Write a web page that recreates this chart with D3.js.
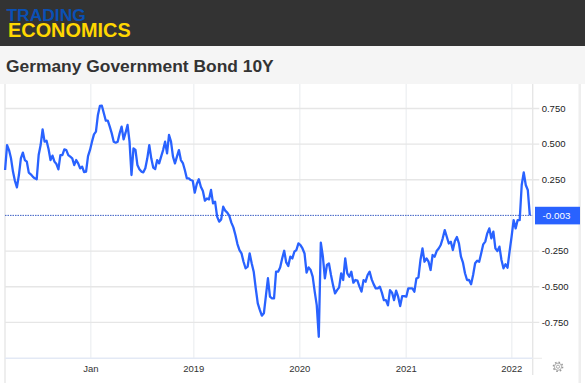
<!DOCTYPE html>
<html>
<head>
<meta charset="utf-8">
<script src="https://d3js.org/d3.v7.min.js"></script>
<style>
  body { margin: 0; background: #fff; }
  text { font-family: "Liberation Sans", Arial, sans-serif; }
</style>
</head>
<body>
<div id="grafico"></div>
<script>
const title = "Germany Government Bond 10Y";
const lastLabel = "-0.003";
const firstWeek = new Date(2017, 2, 5);

const yTicks = [-0.75, -0.5, -0.25, 0.25, 0.5, 0.75];
const xTicks = [new Date(2018, 0, 1), new Date(2019, 0, 1), new Date(2020, 0, 1), new Date(2021, 0, 1), new Date(2022, 0, 1)];
const xTickLabels = ["Jan", "2019", "2020", "2021", "2022"];

// weekly yield
const yields2017 = [
  0.315, 0.490, 0.455, 0.397, 0.304, 0.238, 0.194, 0.280, 0.397, 0.437, 0.385, 0.374,
  0.297, 0.285, 0.269, 0.257, 0.250, 0.420, 0.490, 0.600, 0.514, 0.521, 0.463, 0.385,
  0.416, 0.374, 0.357, 0.320, 0.420, 0.420, 0.460, 0.455, 0.420, 0.409, 0.397, 0.350,
  0.385, 0.362, 0.327, 0.339, 0.301, 0.304, 0.413
];
const yields2018 = [
  0.456, 0.514, 0.565, 0.584, 0.701, 0.764, 0.766, 0.713, 0.661, 0.661, 0.619, 0.572,
  0.514, 0.507, 0.514, 0.572, 0.619, 0.530, 0.577, 0.631, 0.514, 0.280, 0.467, 0.456,
  0.350, 0.320, 0.304, 0.299, 0.327, 0.397, 0.490, 0.397, 0.332, 0.322, 0.385, 0.362,
  0.409, 0.455, 0.514, 0.432, 0.561, 0.514, 0.409, 0.362, 0.409, 0.455, 0.385, 0.364,
  0.315, 0.257, 0.257, 0.245, 0.240
];
const yields2019 = [
  0.156, 0.217, 0.250, 0.198, 0.168, 0.100, 0.116, 0.109, 0.175, 0.081, 0.093, -0.012,
  -0.047, -0.031, 0.058, 0.030, 0.016, -0.007, -0.054, -0.087, -0.141, -0.204, -0.246, -0.269,
  -0.328, -0.374, -0.363, -0.269, -0.339, -0.398, -0.514, -0.620, -0.666, -0.706, -0.690, -0.568,
  -0.444, -0.573, -0.585, -0.585, -0.398, -0.398, -0.368, -0.305, -0.251, -0.333, -0.358, -0.293,
  -0.305, -0.258, -0.246
];
const yields2020 = [
  -0.199, -0.211, -0.235, -0.270, -0.405, -0.368, -0.386, -0.433, -0.538, -0.632, -0.854, -0.195,
  -0.290, -0.445, -0.351, -0.340, -0.421, -0.492, -0.550, -0.527, -0.508, -0.410, -0.456, -0.305,
  -0.410, -0.433, -0.398, -0.475, -0.456, -0.461, -0.503, -0.538, -0.457, -0.468, -0.421, -0.398,
  -0.452, -0.487, -0.515, -0.515, -0.503, -0.545, -0.597, -0.597, -0.634, -0.527, -0.545, -0.597,
  -0.531, -0.573, -0.639, -0.569
];
const yields2021 = [
  -0.569, -0.573, -0.515, -0.515, -0.515, -0.538, -0.445, -0.438, -0.316, -0.235, -0.328, -0.305,
  -0.328, -0.386, -0.281, -0.293, -0.253, -0.235, -0.211, -0.164, -0.106, -0.153, -0.200, -0.188,
  -0.246, -0.183, -0.155, -0.199, -0.293, -0.335, -0.409, -0.456, -0.456, -0.486, -0.421, -0.339,
  -0.321, -0.328, -0.269, -0.206, -0.187, -0.129, -0.094, -0.164, -0.117, -0.234, -0.253, -0.222,
  -0.316, -0.374, -0.346, -0.370
];
const yields2022 = [-0.257, -0.152, -0.036, -0.094, -0.036, -0.036, 0.210, 0.299, 0.210, 0.175, -0.003];

const yields = [].concat(yields2017, yields2018, yields2019, yields2020, yields2021, yields2022);
const dates = yields.map((d, i) => d3.timeWeek.offset(firstWeek, i));

const width = 585;
const height = 383;
const left = 5;
const right = 532.7;
const axisY = 358.3;
const plotTop = 84;

const svg = d3.select("#grafico")
              .append("svg")
              .attr("width", width)
              .attr("height", height)
              .style("display", "block");

// header + title band
svg.append("rect").attr("width", width).attr("height", 46).attr("fill", "#333333");
svg.append("rect").attr("y", 46).attr("width", width).attr("height", plotTop - 46).attr("fill", "#f5f5f5");

svg.append("text").attr("x", 6.5).attr("y", 20.8)
   .attr("font-size", "17.4px").attr("font-weight", "bold").attr("fill", "#0a50b5")
   .text("TRADING");
svg.append("text").attr("x", 8).attr("y", 36.8)
   .attr("font-size", "19.9px").attr("font-weight", "bold").attr("fill", "#ffd700")
   .text("ECONOMICS");
svg.append("text").attr("x", 6).attr("y", 71.5)
   .attr("font-size", "17.4px").attr("font-weight", "bold").attr("fill", "#333333")
   .text(title);

// side borders
svg.append("rect").attr("x", 4).attr("y", plotTop).attr("width", 2).attr("height", height - plotTop).attr("fill", "#eeeeee");
svg.append("rect").attr("x", 578.5).attr("y", plotTop).attr("width", 2.5).attr("height", height - plotTop).attr("fill", "#eeeeee");

// ordinal-looking axis: years are not all the same width in the picture
const xScale = d3.scaleTime()
                 .domain(xTicks)
                 .range([90.3, 193.3, 299.3, 405.7, 511.3]);

const yScale = d3.scaleLinear()
                 .domain([-0.75, 0.75])
                 .range([321.9, 108]);

const xAxis = d3.axisBottom(xScale)
                .tickValues(xTicks)
                .tickFormat((d, i) => xTickLabels[i])
                .tickSize(-(axisY - plotTop))
                .tickSizeOuter(0);

const gx = svg.append("g")
              .attr("transform", `translate(0, ${axisY})`)
              .call(xAxis);
gx.select(".domain").remove();
gx.selectAll(".tick line").attr("stroke", "#eff1f3").attr("stroke-width", 1.4);
gx.selectAll(".tick text")
  .attr("y", 13.8).attr("dy", 0)
  .attr("font-size", "9.5px").attr("font-family", "Liberation Sans").attr("fill", "#333333");

const yAxis = d3.axisRight(yScale)
                .tickValues(yTicks)
                .tickFormat(d => d.toFixed(3))
                .tickSize(0)
                .tickSizeOuter(0);

const gy = svg.append("g")
              .attr("transform", `translate(${right}, 0)`)
              .call(yAxis);
gy.select(".domain").remove();
gy.selectAll(".tick line")
  .attr("x1", left - right).attr("x2", 6.6)
  .attr("stroke", "#e6e6e6").attr("stroke-width", 1.4);
gy.selectAll(".tick text")
  .attr("x", 9).attr("dy", "0.34em")
  .attr("font-size", "9.5px").attr("font-family", "Liberation Sans").attr("fill", "#222222");

// right and bottom axis lines
svg.append("line").attr("x1", right).attr("x2", right).attr("y1", plotTop).attr("y2", 375)
   .attr("stroke", "#e6e6e6").attr("stroke-width", 1.4);
svg.append("line").attr("x1", left).attr("x2", right).attr("y1", axisY).attr("y2", axisY)
   .attr("stroke", "#e3e9f5").attr("stroke-width", 1.6);
svg.append("line").attr("x1", right).attr("x2", 542).attr("y1", axisY).attr("y2", axisY)
   .attr("stroke", "#eeeeee").attr("stroke-width", 1.2);

// last value line
const lastValue = yields[yields.length - 1];
svg.append("line")
   .attr("x1", left).attr("x2", right)
   .attr("y1", yScale(lastValue)).attr("y2", yScale(lastValue))
   .attr("stroke", "#3b5fc4").attr("stroke-width", 1)
   .attr("stroke-dasharray", "1.5,1");

const line = d3.line()
               .x((d, i) => xScale(dates[i]))
               .y(d => yScale(d));

svg.append("path")
   .datum(yields)
   .attr("fill", "none")
   .attr("stroke", "#2962ff")
   .attr("stroke-width", 2.3)
   .attr("stroke-linejoin", "round")
   .attr("d", line);

// last value badge
svg.append("rect")
   .attr("x", 535).attr("y", yScale(lastValue) - 8.6)
   .attr("width", 45).attr("height", 17.6)
   .attr("fill", "#2962ff");
svg.append("text")
   .attr("x", 556.5).attr("y", yScale(lastValue))
   .attr("dy", "0.35em")
   .attr("text-anchor", "middle")
   .attr("font-size", "9.8px").attr("fill", "#ffffff")
   .text(lastLabel);

// settings gear
const gear = svg.append("g").attr("transform", "translate(558, 366.7)").attr("fill", "none").attr("stroke", "#999999");
gear.append("circle").attr("r", 4.6).attr("stroke-width", 1.5).attr("stroke-dasharray", "1.6,2");
gear.append("circle").attr("r", 3.6).attr("stroke-width", 0.8);
gear.append("circle").attr("r", 1.6).attr("stroke-width", 0.8);
</script>
</body>
</html>
